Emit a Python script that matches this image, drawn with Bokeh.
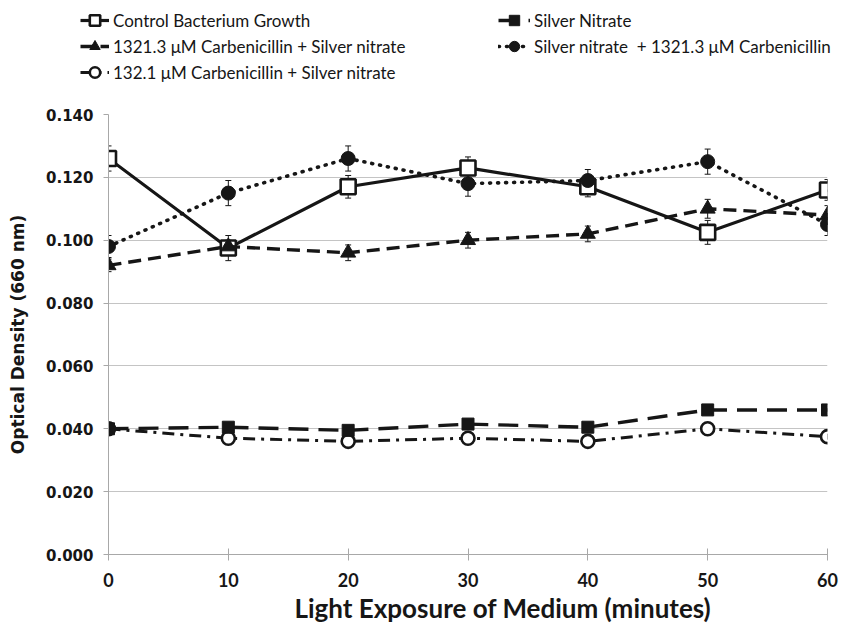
from bokeh.plotting import figure
from bokeh.layouts import column
from bokeh.models import (ColumnDataSource, FixedTicker, Legend, LegendItem, Whisker,
                          NumeralTickFormatter, Range1d, TeeHead, Title)
from bokeh.embed import file_html
from bokeh.resources import INLINE

# ---- data ----
minutes = [0, 10, 20, 30, 40, 50, 60]

control = [0.126, 0.0975, 0.117, 0.123, 0.117, 0.1025, 0.116]
control_err = [0.004, 0.004, 0.0036, 0.0035, 0.0032, 0.0038, 0.0033]

silver = [0.040, 0.0405, 0.0395, 0.0415, 0.0405, 0.046, 0.046]

carb1321_sn = [0.092, 0.098, 0.096, 0.100, 0.102, 0.110, 0.108]
carb1321_sn_err = [0.002, 0.002, 0.0025, 0.0025, 0.0025, 0.003, 0.003]

sn_carb1321 = [0.098, 0.115, 0.126, 0.118, 0.119, 0.125, 0.105]
sn_carb1321_err = [0.0035, 0.004, 0.004, 0.004, 0.0035, 0.004, 0.0035]

carb132_sn = [0.040, 0.037, 0.036, 0.037, 0.036, 0.040, 0.0375]
carb132_sn_err = [0.0008, 0.0008, 0.0008, 0.0008, 0.0008, 0.0008, 0.0008]

y_ticks = [0.0, 0.02, 0.04, 0.06, 0.08, 0.10, 0.12, 0.14]
x_ticks = [0, 10, 20, 30, 40, 50, 60]

labels = {
    "control": "Control Bacterium Growth",
    "silver": "Silver Nitrate",
    "c1321_sn": "1321.3 \u03bcM Carbenicillin + Silver nitrate",
    "sn_c1321": "Silver nitrate  + 1321.3 \u03bcM Carbenicillin",
    "c132_sn": "132.1 \u03bcM Carbenicillin + Silver nitrate",
}

INK = "#161616"
GRID = "#c4c4c4"
AXIS = "#a8a8a8"

styles = {
    "control": (dict(line_width=3.2),
                dict(marker="square", size=15, fill_color="white", line_width=2.6)),
    "c132_sn": (dict(line_width=3, line_dash="12 6 3 6"),
                dict(marker="circle", size=13, fill_color="white", line_width=2.6)),
    "silver": (dict(line_width=3.4, line_dash="20 10"),
               dict(marker="square", size=12, fill_color=INK)),
    "c1321_sn": (dict(line_width=3.4, line_dash="13 7"),
                 dict(marker="triangle", size=15, fill_color=INK)),
    "sn_c1321": (dict(line_width=3.6, line_dash="1 7", line_cap="round"),
                 dict(marker="circle", size=14, fill_color=INK)),
}

# ------------------- main chart -------------------
p = figure(width=845, height=523, x_range=Range1d(0, 60), y_range=Range1d(0, 0.14),
           output_backend="svg", toolbar_location=None, title=None,
           min_border_left=108, min_border_right=18, min_border_top=14, min_border_bottom=69)
p.outline_line_color = None
p.xgrid.visible = False
p.ygrid.grid_line_color = GRID
p.ygrid.grid_line_width = 1

p.yaxis.ticker = FixedTicker(ticks=y_ticks)
p.yaxis.formatter = NumeralTickFormatter(format="0.000")
p.yaxis.axis_line_color = AXIS
p.yaxis.major_tick_line_color = AXIS
p.yaxis.major_tick_in = 0
p.yaxis.major_tick_out = 5
p.yaxis.minor_tick_line_color = None
p.yaxis.major_label_text_font = "DejaVu Sans"
p.yaxis.major_label_text_font_style = "bold"
p.yaxis.major_label_text_font_size = "15px"
p.yaxis.major_label_text_color = INK
p.yaxis.major_label_standoff = 10
p.yaxis.axis_label = "Optical Density (660 nm)"
p.yaxis.axis_label_text_font = "DejaVu Sans"
p.yaxis.axis_label_text_font_style = "bold"
p.yaxis.axis_label_text_font_size = "17px"
p.yaxis.axis_label_text_color = INK
p.yaxis.axis_label_standoff = 15

p.xaxis.ticker = FixedTicker(ticks=x_ticks)
p.xaxis.axis_line_color = AXIS
p.xaxis.major_tick_line_color = AXIS
p.xaxis.major_tick_in = 6
p.xaxis.major_tick_out = 6
p.xaxis.minor_tick_line_color = None
p.xaxis.major_label_text_font = "Lato"
p.xaxis.major_label_text_font_style = "bold"
p.xaxis.major_label_text_font_size = "18px"
p.xaxis.major_label_text_color = INK
p.xaxis.major_label_standoff = 12

xtitle = Title(text="Light Exposure of Medium (minutes)", align="left", offset=186,
               text_font="Lato", text_font_style="bold", text_font_size="26px",
               text_color=INK, standoff=0)
p.add_layout(xtitle, "below")


def add_errors(ys, errs):
    src = ColumnDataSource(dict(x=minutes,
                                upper=[y + e for y, e in zip(ys, errs)],
                                lower=[y - e for y, e in zip(ys, errs)]))
    w = Whisker(source=src, base="x", upper="upper", lower="lower",
                line_color=INK, line_width=1,
                upper_head=TeeHead(size=6, line_color=INK, line_width=1),
                lower_head=TeeHead(size=6, line_color=INK, line_width=1))
    p.add_layout(w)


add_errors(control, control_err)
add_errors(carb1321_sn, carb1321_sn_err)
add_errors(sn_carb1321, sn_carb1321_err)
add_errors(carb132_sn, carb132_sn_err)

series = [("control", control), ("c132_sn", carb132_sn), ("silver", silver),
          ("c1321_sn", carb1321_sn), ("sn_c1321", sn_carb1321)]
for key, ys in series:
    lkw, mkw = styles[key]
    p.line(minutes, ys, line_color=INK, **lkw)
    p.scatter(minutes, ys, line_color=INK, **mkw)

# ------------------- legend strip (above the chart) -------------------
lg = figure(width=845, height=100, x_range=Range1d(0, 1), y_range=Range1d(0, 1),
            output_backend="svg", toolbar_location=None, title=None,
            x_axis_location=None, y_axis_location=None,
            min_border_left=0, min_border_right=0, min_border_top=0, min_border_bottom=0)
lg.outline_line_color = None
lg.grid.visible = False
if hasattr(lg, "frame_align"):
    lg.frame_align = False

items = {}
for key, _ in series:
    lkw, mkw = styles[key]
    # one point placed outside the strip's visible range, so only the legend glyph shows
    lr = lg.line([-5], [-5], line_color=INK, **lkw)
    mr = lg.scatter([-5], [-5], line_color=INK, **mkw)
    items[key] = LegendItem(label=labels[key], renderers=[lr, mr])

legend_style = dict(border_line_color=None, background_fill_alpha=0, padding=0, margin=0,
                    spacing=0, label_height=26, glyph_height=26, label_standoff=4,
                    label_text_font="Lato", label_text_font_size="17px",
                    label_text_color=INK, orientation="vertical")

leg1 = Legend(items=[items["control"], items["c1321_sn"], items["c132_sn"]],
              location=(80, 15), glyph_width=29, **legend_style)
leg2 = Legend(items=[items["silver"], items["sn_c1321"]],
              location=(498, 41), glyph_width=32, **legend_style)
lg.add_layout(leg1)
lg.add_layout(leg2)

layout = column(lg, p, spacing=0)
open("out.html", "w").write(file_html(layout, INLINE))
